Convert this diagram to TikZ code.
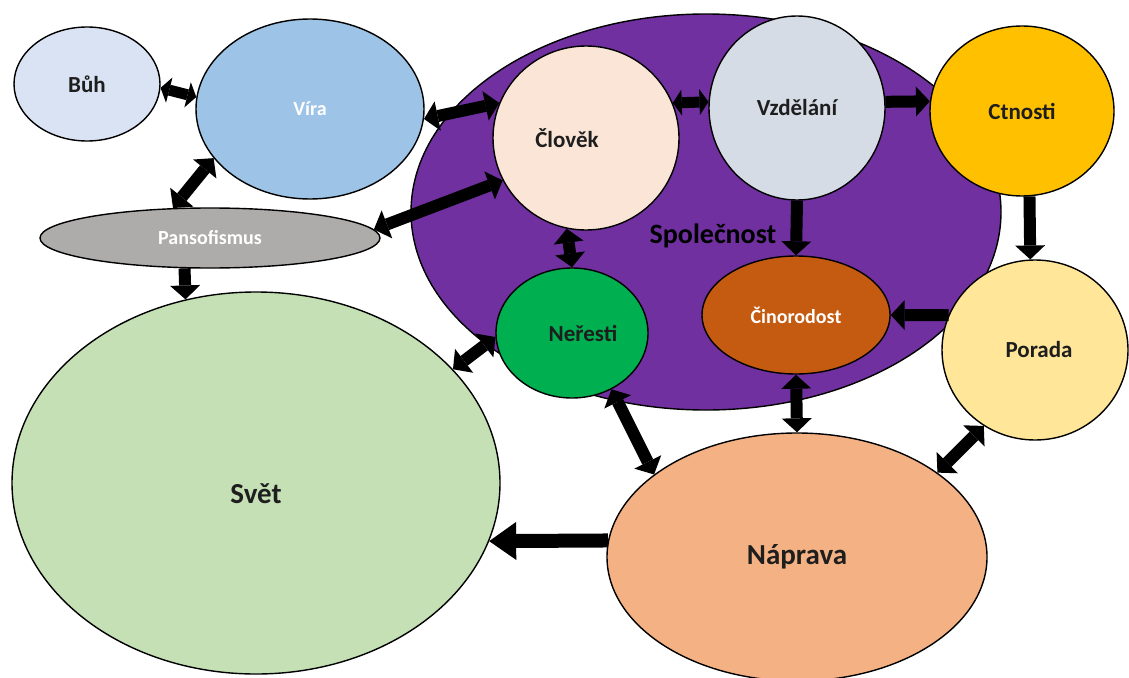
\documentclass[tikz,border=0pt]{standalone}
\usepackage{fontspec}
\setmainfont{Carlito}
\usepackage{tikz}
\usetikzlibrary{arrows.meta,shapes.geometric}
\definecolor{BuhBlue}{HTML}{DAE3F3}
\definecolor{ViraBlue}{HTML}{9DC3E6}
\definecolor{SpolPurple}{HTML}{7030A0}
\definecolor{ClovekPeach}{HTML}{FBE5D6}
\definecolor{VzdelGrey}{HTML}{D6DCE5}
\definecolor{CtnostGold}{HTML}{FFC000}
\definecolor{PansGrey}{HTML}{AEABAB}
\definecolor{NerestGreen}{HTML}{00B050}
\definecolor{CinoBrown}{HTML}{C55A11}
\definecolor{PoradaYellow}{HTML}{FFE699}
\definecolor{SvetGreen}{HTML}{C5E0B4}
\definecolor{NapravaOrange}{HTML}{F4B183}
\definecolor{LabelInk}{HTML}{1E1E1E}

\tikzset{
  bubble/.style={ellipse, draw=black, line width=1.4pt, inner sep=0pt,
    text=LabelInk, font=\bfseries\fontsize{23}{27}\selectfont},
  tag/.style={text=LabelInk, font=\bfseries\fontsize{23}{27}\selectfont},
  whitelabel/.style={text=white, font=\bfseries\fontsize{20}{24}\selectfont},
  bigtext/.style={font=\bfseries\fontsize{29}{34}\selectfont},
  blocktip/.tip={Triangle[length=14pt,width=30pt,line width=0pt]},
  shorttip/.tip={Triangle[length=9pt,width=26pt,line width=0pt]},
  widetip/.tip={Triangle[length=27pt,width=38pt,line width=0pt]},
  bigarrow/.style={line width=12pt, -blocktip},
  bothways/.style={line width=12pt, blocktip-blocktip},
  shortways/.style={line width=11pt, shorttip-shorttip},
}

\begin{document}
\begin{tikzpicture}[x=1pt,y=-1pt]
  \useasboundingbox (0,0) rectangle (1129,677);

  % the society oval sits behind everything
  \node[bubble, fill=SpolPurple, minimum width=590pt, minimum height=396pt] (spolecnost) at (706,212) {};
  \node[tag, font=\bfseries\fontsize{28}{33}\selectfont, text=black] (spolecnostlabel) at (713,236) {Společnost};

  \node[bubble, fill=BuhBlue, minimum width=146pt, minimum height=114pt] (buh) at (87,84) {Bůh};
  \node[bubble, whitelabel, fill=ViraBlue, minimum width=228pt, minimum height=180pt] (vira) at (310,109) {Víra};
  \node[bubble, whitelabel, fill=PansGrey, minimum width=340pt, minimum height=60pt] (pansofismus) at (210,238) {Pansofismus};
  \node[bubble, fill=ClovekPeach, minimum width=186pt, minimum height=184pt,
    label={[tag, xshift=-19pt]center:Člověk}] (clovek) at (586,138) {};
  \node[bubble, fill=VzdelGrey, minimum width=176pt, minimum height=184pt] (vzdelani) at (797,108) {Vzdělání};
  \node[bubble, fill=CtnostGold, minimum width=184pt, minimum height=170pt] (ctnosti) at (1022,111) {Ctnosti};
  \node[bubble, fill=NerestGreen, minimum width=152pt, minimum height=130pt,
    label={[tag, xshift=11pt]center:Neřesti}] (neresti) at (572,333) {};
  \node[bubble, whitelabel, fill=CinoBrown, minimum width=188pt, minimum height=118pt] (cinorodost) at (796,315) {Činorodost};
  \node[bubble, fill=PoradaYellow, minimum width=186pt, minimum height=180pt,
    label={[tag, xshift=4pt]center:Porada}] (porada) at (1035,350) {};
  \node[bubble, fill=SvetGreen, minimum width=488pt, minimum height=382pt,
    label={[tag, bigtext, yshift=-11pt]center:Svět}] (svet) at (256,483) {};
  \node[bubble, bigtext, fill=NapravaOrange, minimum width=380pt, minimum height=248pt] (naprava) at (797,557) {Náprava};

  % connectors
  \draw[shortways] (buh.-3) -- (vira.174);
  \draw[bothways] (vira.-5) -- (clovek.158);
  \draw[bothways] (vira.-153) -- (pansofismus.141);
  \draw[bothways] (pansofismus.3) -- (clovek.207);
  \draw[bigarrow] (pansofismus.-130) -- (svet.111);
  \draw[shortways] (clovek.22) -- (vzdelani.176);
  \draw[bigarrow] (vzdelani.4) -- (ctnosti.174);
  \draw[bothways] (clovek.-102) -- (neresti.90);
  \draw[bigarrow] (vzdelani.-90) -- (cinorodost.90);
  \draw[bigarrow] (ctnosti.-85) -- (porada.93);
  \draw[bigarrow] (porada.158) -- (cinorodost.0);
  \draw[bothways] (neresti.183) -- (svet.30);
  \draw[bothways] (cinorodost.-90) -- (naprava.90);
  \draw[bothways] (neresti.-55) -- (naprava.150);
  \draw[bothways] (porada.-124) -- (naprava.31);
  \draw[line width=14pt, -widetip] (naprava.175) -- (svet.-14);
\end{tikzpicture}
\end{document}
